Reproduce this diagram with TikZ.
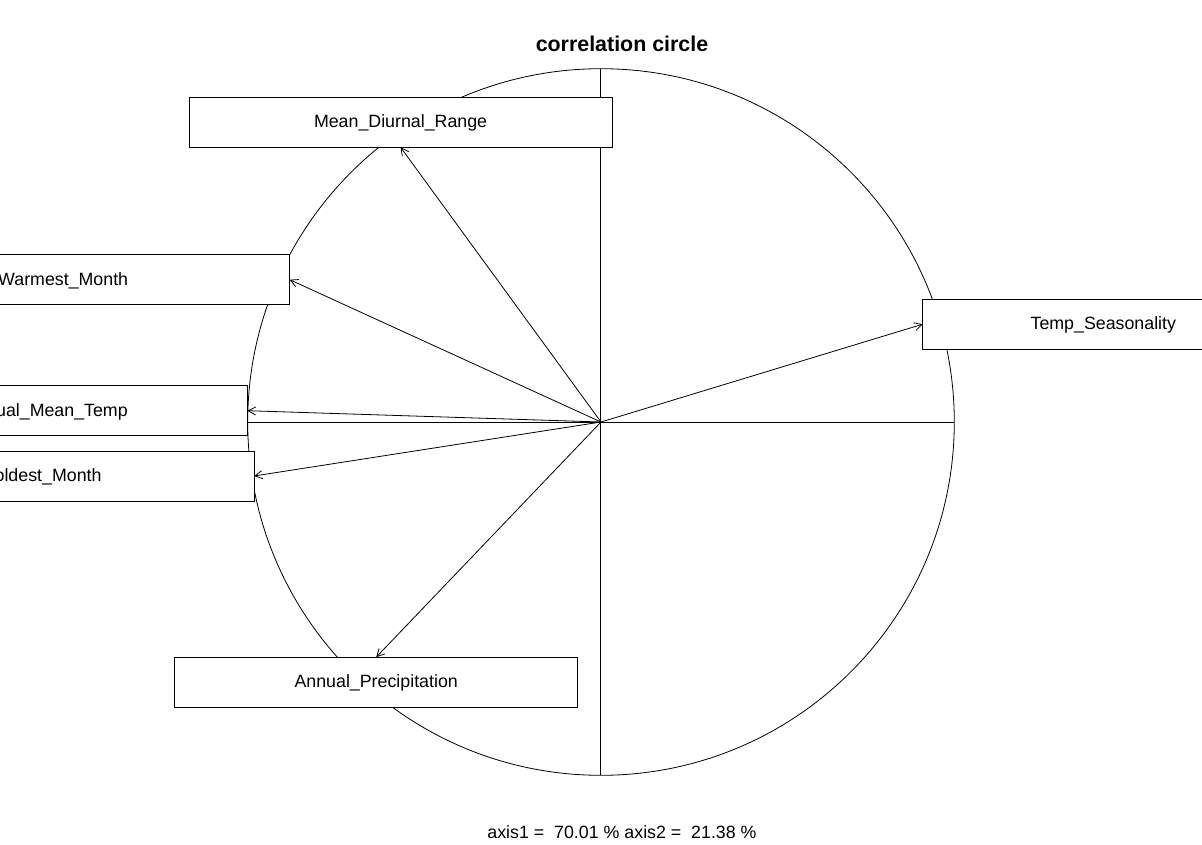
\documentclass[tikz,border=0pt]{standalone}
\usepackage{fontspec}
\setmainfont{Liberation Sans}
\usetikzlibrary{arrows.meta}
\begin{document}
\begin{tikzpicture}[x=1pt,y=-1pt, line width=0.8pt,
  lbl/.style={draw, fill=white, inner sep=0pt, outer sep=0pt, minimum height=50pt,
    text height=15pt, text depth=3.7pt,
    font=\fontsize{17.8}{20}\selectfont},
  vec/.style={-{Straight Barb[length=7.5pt,width=8pt]}, line width=0.8pt},
  ttl/.style={font=\fontsize{21.4}{24}\selectfont\bfseries},
  sub/.style={font=\fontsize{17.8}{20}\selectfont}]
\useasboundingbox (0,0) rectangle (1202,844);
\clip (0,0) rectangle (1202,844);
\fill[white] (0,0) rectangle (1202,844);
\coordinate (O) at (601,422);
% circle and axes
\draw (O) circle (353.3pt);
\draw (600.7,68.7) coordinate (top) -- (600.7,775.3) coordinate (bot);
\draw (247.7,422) coordinate (lft) -- (954.3,422) coordinate (rgt);
% boxes
\node[lbl, minimum width=423.3pt] (mdr) at (400.6,122.3) {Mean\_Diurnal\_Range};
\node[lbl, minimum width=550pt] (warm) at (14.7,279.7) {Max\_Temp\_Warmest\_Month};
\node[lbl, minimum width=402.4pt] (amt) at (46.1,410.7) {Annual\_Mean\_Temp};
\node[lbl, minimum width=516.7pt] (cold) at (-4.35,476) {Min\_Temp\_Coldest\_Month};
\node[lbl, minimum width=403pt] (ap) at (376.2,682.2) {Annual\_Precipitation};
\node[lbl, minimum width=361.2pt] (ts) at (1103.3,324.2) {Temp\_Seasonality};
% arrows
\draw[vec] (O) -- (mdr.south);
\draw[vec] (O) -- (warm.east);
\draw[vec] (O) -- (amt.east);
\draw[vec] (O) -- (cold.east);
\draw[vec] (O) -- (ap.north);
\draw[vec] (O) -- (ts.west);
% texts
\node[ttl] (title) at (622,44) {correlation circle};
\node[sub] (axes) at (622,832) {axis1 =\ \ 70.01 \% axis2 =\ \ 21.38 \%};
\end{tikzpicture}
\end{document}
